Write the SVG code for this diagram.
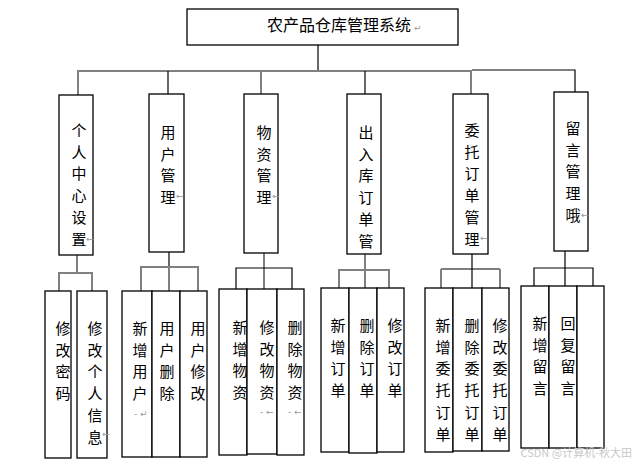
<svg xmlns="http://www.w3.org/2000/svg" width="636" height="465" viewBox="0 0 636 465">
<style>
.b{fill:#fff;stroke:#000;stroke-width:1.3}
.t{font-family:"Noto Sans CJK SC","Noto Sans CJK JP",sans-serif;font-size:15px;fill:#000;text-anchor:middle}
.m{font-family:"DejaVu Sans",sans-serif;font-size:9px;fill:#999}
.g{stroke:#808080;stroke-width:2;fill:none}
.k{stroke:#000;stroke-width:1.2;fill:none}
</style>
<rect width="636" height="465" fill="#fff"/>
<g id="connectors">
<path class="k" d="M318 45V71"/>
<path class="g" d="M77 71H472"/>
<path class="k" d="M472 70H575V92"/>
<path class="g" d="M78 71V95"/>
<path class="k" d="M168 71V94"/>
<path class="g" d="M261 71V94"/>
<path class="k" d="M365 71V94"/>
<path class="g" d="M471 71V94"/>
<path class="g" d="M77 255V273M59 291V273H92V291"/>
<path class="k" d="M169 252V267"/>
<path class="g" d="M141 291V267H198V291M169 267V291"/>
<path class="g" d="M264 253V289"/>
<path class="k" d="M236 289V268H292V289"/>
<path class="g" d="M365 254V288M339 288V270H389V288"/>
<path class="k" d="M472 254V288"/>
<path class="k" d="M441 269H500"/>
<path class="g" d="M441 269V288M500 269V288"/>
<path class="k" d="M565 251V286M534 286V268H593V286"/>
</g>
<g id="root">
<rect class="b" x="187" y="9" width="271" height="36"/>
<text class="t" x="339" y="31" style="font-size:16px">农产品仓库管理系统</text>
<text class="m" x="414" y="31">↵</text>
</g>
<g id="n1"><rect class="b" x="59" y="95" width="34" height="160"/>
<text class="t" x="79" y="136"><tspan x="79">个</tspan><tspan x="79" dy="21.7">人</tspan><tspan x="79" dy="21.7">中</tspan><tspan x="79" dy="21.7">心</tspan><tspan x="79" dy="21.7">设</tspan><tspan x="79" dy="21.7">置</tspan></text>
<text class="m" x="86" y="242">←</text></g>
<g id="n2"><rect class="b" x="149" y="94" width="35" height="158"/>
<text class="t" x="168" y="138"><tspan x="168">用</tspan><tspan x="168" dy="21.7">户</tspan><tspan x="168" dy="21.7">管</tspan><tspan x="168" dy="21.7">理</tspan></text>
<text class="m" x="176" y="199">←</text></g>
<g id="n3"><rect class="b" x="244" y="94" width="34" height="159"/>
<text class="t" x="264" y="138"><tspan x="264">物</tspan><tspan x="264" dy="21.7">资</tspan><tspan x="264" dy="21.7">管</tspan><tspan x="264" dy="21.7">理</tspan></text>
<text class="m" x="272" y="199">←</text></g>
<g id="n4"><rect class="b" x="347" y="94" width="34" height="160"/>
<text class="t" x="366" y="138"><tspan x="366">出</tspan><tspan x="366" dy="21.7">入</tspan><tspan x="366" dy="21.7">库</tspan><tspan x="366" dy="21.7">订</tspan><tspan x="366" dy="21.7">单</tspan><tspan x="366" dy="21.7">管</tspan></text></g>
<g id="n5"><rect class="b" x="453" y="94" width="35" height="160"/>
<text class="t" x="472" y="136"><tspan x="472">委</tspan><tspan x="472" dy="21.7">托</tspan><tspan x="472" dy="21.7">订</tspan><tspan x="472" dy="21.7">单</tspan><tspan x="472" dy="21.7">管</tspan><tspan x="472" dy="21.7">理</tspan></text>
<text class="m" x="480" y="241">←</text></g>
<g id="n6"><rect class="b" x="554" y="92" width="34" height="159"/>
<text class="t" x="573" y="134"><tspan x="573">留</tspan><tspan x="573" dy="21.7">言</tspan><tspan x="573" dy="21.7">管</tspan><tspan x="573" dy="21.7">理</tspan><tspan x="573" dy="21.7">哦</tspan></text>
<text class="m" x="581" y="218">←</text></g>
<g id="n1a"><rect class="b" x="45" y="291" width="26" height="167"/>
<text class="t" x="63" y="334"><tspan x="63">修</tspan><tspan x="63" dy="21.7">改</tspan><tspan x="63" dy="21.7">密</tspan><tspan x="63" dy="21.7">码</tspan></text></g>
<g id="n1b"><rect class="b" x="77" y="291" width="30" height="167"/>
<text class="t" x="95" y="334"><tspan x="95">修</tspan><tspan x="95" dy="21.7">改</tspan><tspan x="95" dy="21.7">个</tspan><tspan x="95" dy="21.7">人</tspan><tspan x="95" dy="21.7">信</tspan><tspan x="95" dy="21.7">息</tspan></text>
<text class="m" x="102" y="437">←</text></g>
<g id="n2a"><rect class="b" x="122" y="291" width="30" height="166"/>
<text class="t" x="140" y="334"><tspan x="140">新</tspan><tspan x="140" dy="21.7">增</tspan><tspan x="140" dy="21.7">用</tspan><tspan x="140" dy="21.7">户</tspan></text>
<text class="m" x="134" y="417">- ↵</text></g>
<g id="n2b"><rect class="b" x="152" y="291" width="28" height="166"/>
<text class="t" x="167" y="334"><tspan x="167">用</tspan><tspan x="167" dy="21.7">户</tspan><tspan x="167" dy="21.7">删</tspan><tspan x="167" dy="21.7">除</tspan></text></g>
<g id="n2c"><rect class="b" x="180" y="291" width="27" height="166"/>
<text class="t" x="198" y="334"><tspan x="198">用</tspan><tspan x="198" dy="21.7">户</tspan><tspan x="198" dy="21.7">修</tspan><tspan x="198" dy="21.7">改</tspan></text></g>
<g id="n3a"><rect class="b" x="219" y="289" width="28" height="166"/>
<text class="t" x="240" y="333"><tspan x="240">新</tspan><tspan x="240" dy="21.7">增</tspan><tspan x="240" dy="21.7">物</tspan><tspan x="240" dy="21.7">资</tspan></text></g>
<g id="n3b"><rect class="b" x="247" y="289" width="30" height="165"/>
<text class="t" x="267" y="333"><tspan x="267">修</tspan><tspan x="267" dy="21.7">改</tspan><tspan x="267" dy="21.7">物</tspan><tspan x="267" dy="21.7">资</tspan></text>
<text class="m" x="260" y="415">- ←</text></g>
<g id="n3c"><rect class="b" x="277" y="289" width="27" height="166"/>
<text class="t" x="295" y="333"><tspan x="295">删</tspan><tspan x="295" dy="21.7">除</tspan><tspan x="295" dy="21.7">物</tspan><tspan x="295" dy="21.7">资</tspan></text>
<text class="m" x="288" y="415">- ←</text></g>
<g id="n4a"><rect class="b" x="321" y="288" width="28" height="164"/>
<text class="t" x="338" y="331"><tspan x="338">新</tspan><tspan x="338" dy="21.7">增</tspan><tspan x="338" dy="21.7">订</tspan><tspan x="338" dy="21.7">单</tspan></text></g>
<g id="n4b"><rect class="b" x="349" y="288" width="28" height="165"/>
<text class="t" x="367" y="331"><tspan x="367">删</tspan><tspan x="367" dy="21.7">除</tspan><tspan x="367" dy="21.7">订</tspan><tspan x="367" dy="21.7">单</tspan></text></g>
<g id="n4c"><rect class="b" x="377" y="288" width="27" height="164"/>
<text class="t" x="395" y="331"><tspan x="395">修</tspan><tspan x="395" dy="21.7">改</tspan><tspan x="395" dy="21.7">订</tspan><tspan x="395" dy="21.7">单</tspan></text></g>
<g id="n5a"><rect class="b" x="425" y="288" width="28" height="164"/>
<text class="t" x="443" y="331"><tspan x="443">新</tspan><tspan x="443" dy="21.7">增</tspan><tspan x="443" dy="21.7">委</tspan><tspan x="443" dy="21.7">托</tspan><tspan x="443" dy="21.7">订</tspan><tspan x="443" dy="21.7">单</tspan></text></g>
<g id="n5b"><rect class="b" x="453" y="288" width="29" height="163"/>
<text class="t" x="472" y="331"><tspan x="472">删</tspan><tspan x="472" dy="21.7">除</tspan><tspan x="472" dy="21.7">委</tspan><tspan x="472" dy="21.7">托</tspan><tspan x="472" dy="21.7">订</tspan><tspan x="472" dy="21.7">单</tspan></text></g>
<g id="n5c"><rect class="b" x="482" y="288" width="27" height="163"/>
<text class="t" x="500" y="331"><tspan x="500">修</tspan><tspan x="500" dy="21.7">改</tspan><tspan x="500" dy="21.7">委</tspan><tspan x="500" dy="21.7">托</tspan><tspan x="500" dy="21.7">订</tspan><tspan x="500" dy="21.7">单</tspan></text></g>
<g id="n6a"><rect class="b" x="521" y="286" width="28" height="162"/>
<text class="t" x="540" y="329"><tspan x="540">新</tspan><tspan x="540" dy="21.7">增</tspan><tspan x="540" dy="21.7">留</tspan><tspan x="540" dy="21.7">言</tspan></text></g>
<g id="n6b"><rect class="b" x="549" y="286" width="28" height="162"/>
<text class="t" x="568" y="329"><tspan x="568">回</tspan><tspan x="568" dy="21.7">复</tspan><tspan x="568" dy="21.7">留</tspan><tspan x="568" dy="21.7">言</tspan></text></g>
<g id="n6c"><rect class="b" x="577" y="286" width="27" height="162"/></g>
<text x="632" y="457" style="font-family:'Noto Sans CJK SC',sans-serif;font-size:11px;fill:#c8c8c8;text-anchor:end">CSDN @计算机-秋大田</text>
</svg>
